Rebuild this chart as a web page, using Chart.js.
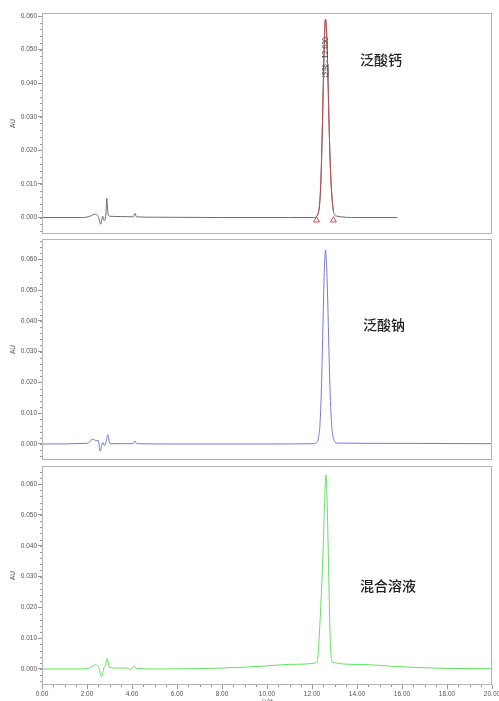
<!DOCTYPE html>
<html>
<head>
<meta charset="utf-8">
<script src="https://cdn.jsdelivr.net/npm/chart.js@4.4.1/dist/chart.umd.min.js"></script>
<style>
  body { margin: 0; background: #fff; width: 499px; height: 701px; overflow: hidden; position: relative; }
  canvas { position: absolute; left: 0; }
</style>
</head>
<body>
<canvas id="c1" width="499" height="240" style="top:0px"></canvas>
<canvas id="c2" width="499" height="229" style="top:237px"></canvas>
<canvas id="c3" width="499" height="237" style="top:464px"></canvas>
<script>
// axis ticks
const xMajor = [0, 2, 4, 6, 8, 10, 12, 14, 16, 18, 20];
const yMajor = [0, 0.01, 0.02, 0.03, 0.04, 0.05, 0.06];

// panel 1: calcium pantothenate (trace stops at 15.8 min)
const t1 = [0, 1.8, 2.1, 2.36, 2.5, 2.61, 2.7, 2.76, 2.84, 2.88, 2.94, 3.0, 3.5, 4.05, 4.13, 4.2, 5, 8, 11, 12.1,
  12.2, 12.3, 12.35, 12.4, 12.45, 12.5, 12.55, 12.6, 12.65, 12.7, 12.75, 12.8, 12.85, 12.9, 12.95, 13.05, 14, 15.8];
const v1 = [0, 0, 0.0003, 0.001, 0.0003, -0.002, 0.0004, -0.0009, 0.001, 0.0057, 0.0008, 0.0004, 0.0003, 0.0002, 0.0012, 0.0002, 0.0001, 0, 0, 0,
  0.0003, 0.002, 0.005, 0.012, 0.024, 0.039, 0.053, 0.059, 0.055, 0.044, 0.030, 0.018, 0.010, 0.005, 0.002, 0.0005, 0, 0];
const tPeak1 = [12.15, 12.2, 12.3, 12.35, 12.4, 12.45, 12.5, 12.55, 12.6, 12.65, 12.7, 12.75, 12.8, 12.85, 12.9, 12.95];
const vPeak1 = [0, 0.0003, 0.002, 0.005, 0.012, 0.024, 0.039, 0.053, 0.059, 0.055, 0.044, 0.030, 0.018, 0.010, 0.005, 0.002];
const tMark1 = [12.2, 12.95];
const vMark1 = [-0.0008, -0.0008];

// panel 2: sodium pantothenate
const t2 = [0, 2.0, 2.28, 2.4, 2.5, 2.58, 2.7, 2.78, 2.85, 2.92, 3.02, 3.5, 4.05, 4.13, 4.2, 6, 10, 12.1,
  12.2, 12.3, 12.35, 12.4, 12.45, 12.5, 12.55, 12.6, 12.65, 12.7, 12.75, 12.8, 12.85, 12.9, 13.0, 13.1, 16, 20];
const v2 = [0, 0.0002, 0.0016, 0.001, 0.0012, -0.0023, 0.0005, -0.0005, 0.0008, 0.003, 0.0001, 0.0001, 0.0001, 0.001, 0.0001, 0, 0, 0.0001,
  0.0004, 0.0025, 0.006, 0.014, 0.027, 0.043, 0.057, 0.063, 0.058, 0.046, 0.031, 0.018, 0.009, 0.004, 0.001, 0.0003, 0.0002, 0.0001];

// panel 3: mixed solution
const t3 = [0, 1.8, 2.1, 2.35, 2.5, 2.65, 2.75, 2.82, 2.9, 2.98, 3.3, 3.8, 3.9, 4.0, 4.13, 4.2, 5, 8, 10, 11,
  12.2, 12.25, 12.3, 12.4, 12.5, 12.56, 12.62, 12.68, 12.74, 12.8, 12.85, 12.9, 14, 16, 18, 20];
const v3 = [0, 0, 0.0003, 0.0013, 0.0008, -0.0025, 0.0003, 0.0012, 0.0035, 0.0006, 0.0003, 0.0003, -0.0002, 0.0002, 0.001, 0.0002, 0, 0.0003, 0.001, 0.0015,
  0.002, 0.003, 0.008, 0.022, 0.040, 0.054, 0.063, 0.052, 0.032, 0.012, 0.004, 0.0022, 0.0015, 0.0007, 0.0002, 0.0001];

const pts = (ts, vs) => ts.map((t, i) => ({ x: t, y: vs[i] }));

const labelFont = { family: "'Liberation Sans', Arial, sans-serif", size: 6.5 };

// gray frame round the plot area + minor ticks + panel caption
const panelPlugin = {
  id: 'panel',
  afterDraw(chart, args, opts) {
    const { ctx, chartArea: a } = chart;
    const ys = chart.scales.y, xs = chart.scales.x;
    ctx.save();
    ctx.strokeStyle = '#b4b4b4';
    ctx.lineWidth = 1;
    ctx.strokeRect(a.left + 0.5, a.top + 0.5, a.right - a.left - 1, a.bottom - a.top - 1);
    ctx.strokeStyle = '#999';
    ctx.beginPath();
    for (let v = -0.004; v <= ys.max + 1e-9; v += 0.002) {
      const y = Math.round(ys.getPixelForValue(v)) + 0.5;
      ctx.moveTo(a.left - 2, y);
      ctx.lineTo(a.left, y);
    }
    if (opts.showX) {
      for (let v = 0; v <= 20 + 1e-9; v += 0.5) {
        const x = Math.round(xs.getPixelForValue(v)) + 0.5;
        ctx.moveTo(x, a.bottom);
        ctx.lineTo(x, a.bottom + 2);
      }
    }
    ctx.stroke();
    ctx.fillStyle = '#222';
    ctx.font = "500 14px 'Noto Sans CJK SC', sans-serif";
    ctx.textBaseline = 'middle';
    ctx.fillText(opts.caption, opts.cx, opts.cy);
    if (opts.peakText) {
      ctx.font = "7px 'Noto Sans CJK SC', sans-serif";
      ctx.fillStyle = '#444';
      ctx.translate(xs.getPixelForValue(opts.peakAt), a.top + 65);
      ctx.rotate(-Math.PI / 2);
      ctx.fillText(opts.peakText, 0, 0);
    }
    if (opts.xTitle) {
      ctx.setTransform(1, 0, 0, 1, 0, 0);
      ctx.font = "6px 'Noto Sans CJK SC', sans-serif";
      ctx.fillStyle = '#555';
      ctx.textAlign = 'center';
      ctx.textBaseline = 'top';
      ctx.fillText(opts.xTitle, xs.getPixelForValue(10), chart.height - 2);
    }
    ctx.restore();
  }
};

function makeChart(id, datasets, p) {
  return new Chart(document.getElementById(id), {
    type: 'line',
    data: { datasets },
    options: {
      responsive: false,
      animation: false,
      layout: { padding: { top: p.padTop, right: 7, left: 0, bottom: 0 } },
      elements: { point: { radius: 0 }, line: { borderWidth: 1, cubicInterpolationMode: 'monotone' } },
      scales: {
        x: {
          type: 'linear', min: 0, max: 20,
          afterBuildTicks: s => { s.ticks = xMajor.map(v => ({ value: v })); },
          afterFit: s => { s.height = p.xHeight; s.paddingLeft = 0; s.paddingRight = 0; },
          ticks: { display: p.showX, font: labelFont, color: '#555', padding: 1, maxRotation: 0,
            callback: v => v.toFixed(2) },
          grid: { drawOnChartArea: false, drawTicks: p.showX, tickLength: 4, color: '#999' },
          border: { display: false }
        },
        y: {
          min: p.yMin, max: p.yMax,
          afterBuildTicks: s => { s.ticks = yMajor.map(v => ({ value: v })); },
          afterFit: s => { s.width = 42; s.paddingTop = 0; s.paddingBottom = 0; },
          ticks: { font: labelFont, color: '#555', padding: 1, callback: v => v.toFixed(3) },
          grid: { drawOnChartArea: false, tickLength: 4, color: '#999' },
          border: { display: false },
          title: { display: true, text: 'AU', font: labelFont, color: '#555', padding: { top: 9, bottom: 0 } }
        }
      },
      plugins: {
        legend: { display: false },
        tooltip: { enabled: false },
        panel: p.panel
      }
    },
    plugins: [panelPlugin]
  });
}

makeChart('c1', [
  { data: pts(tPeak1, vPeak1), borderColor: '#c84848' },
  { data: pts(t1, v1), borderColor: '#6e6e6e' },
  { type: 'scatter', data: pts(tMark1, vMark1), showLine: false, pointStyle: 'triangle', pointRadius: 3.5,
    borderColor: '#d85050', borderWidth: 1, backgroundColor: 'rgba(0,0,0,0)' }
], { padTop: 13, xHeight: 6, showX: false, yMin: -0.0049, yMax: 0.0609,
  panel: { caption: '泛酸钙', cx: 360, cy: 60, peakText: '泛酸 - 12.630', peakAt: 12.58 } });

makeChart('c2', [
  { data: pts(t2, v2), borderColor: '#7676e6' }
], { padTop: 2, xHeight: 6, showX: false, yMin: -0.0052, yMax: 0.0666,
  panel: { caption: '泛酸钠', cx: 363, cy: 88 } });

makeChart('c3', [
  { data: pts(t3, v3), borderColor: '#62e262' }
], { padTop: 2, xHeight: 16, showX: true, yMin: -0.0052, yMax: 0.0659,
  panel: { caption: '混合溶液', cx: 360, cy: 122, showX: true, xTitle: '分钟' } });
</script>
</body>
</html>
